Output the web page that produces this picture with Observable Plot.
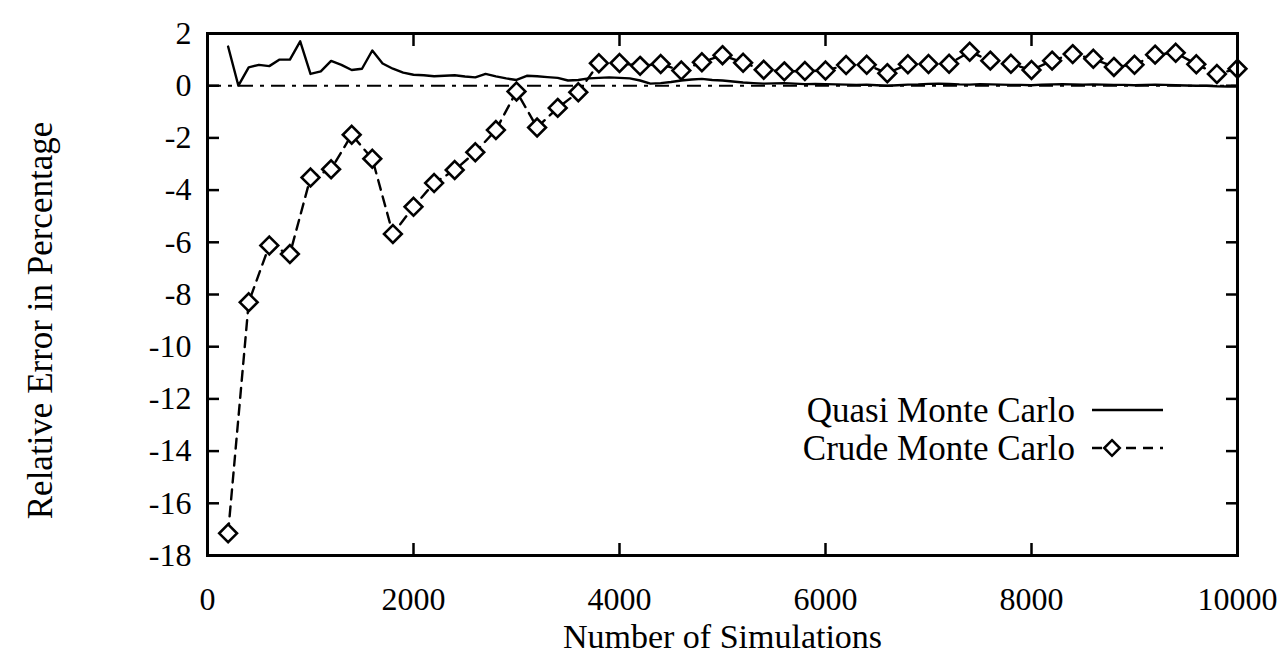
<!DOCTYPE html>
<html><head><meta charset="utf-8">
<script src="https://cdn.jsdelivr.net/npm/d3@7"></script>
<script src="https://cdn.jsdelivr.net/npm/@observablehq/plot@0.6"></script>
<style>
body{margin:0;background:#fff;}
#wrap{position:relative;width:1278px;height:657px;font-family:"Liberation Serif","Times New Roman",serif;}
#legend{position:absolute;left:0;top:0;pointer-events:none;}
</style></head><body><div id="wrap"></div>
<script>
// Crude Monte Carlo: every 200 simulations
const crudeX = [200,400,600,800,1000,1200,1400,1600,1800,2000,2200,2400,2600,2800,3000,3200,3400,3600,3800,4000,4200,4400,4600,4800,5000,5200,5400,5600,5800,6000,6200,6400,6600,6800,7000,7200,7400,7600,7800,8000,8200,8400,8600,8800,9000,9200,9400,9600,9800,10000];
const crudeY = [-17.15,-8.3,-6.12,-6.45,-3.52,-3.2,-1.88,-2.8,-5.68,-4.64,-3.73,-3.23,-2.55,-1.7,-0.22,-1.6,-0.85,-0.25,0.86,0.87,0.76,0.83,0.58,0.9,1.17,0.88,0.61,0.55,0.56,0.58,0.79,0.8,0.48,0.82,0.83,0.84,1.3,0.96,0.84,0.6,0.96,1.21,1.03,0.72,0.8,1.19,1.26,0.82,0.45,0.65];
// Quasi Monte Carlo: every 100 simulations, 200..10000
const quasiX = d3.range(200, 10001, 100);
const quasiY = [1.5,0.0,0.7,0.8,0.75,1.0,1.0,1.7,0.45,0.55,0.95,0.8,0.6,0.65,1.35,0.85,0.65,0.5,0.42,
  0.4,0.36,0.38,0.4,0.35,0.32,0.45,0.36,0.28,0.22,0.38,0.36,0.33,0.3,0.2,0.22,0.28,0.3,0.32,0.3,
  0.28,0.2,0.08,0.1,0.14,0.2,0.24,0.26,0.22,0.2,0.16,0.12,0.1,0.08,0.09,0.1,0.08,0.06,0.07,0.06,
  0.05,0.04,0.03,0.04,0.02,0.0,0.02,0.04,0.05,0.07,0.08,0.07,0.05,0.04,0.06,0.05,0.04,0.03,0.03,0.02,
  0.04,0.05,0.06,0.05,0.04,0.05,0.04,0.03,0.03,0.02,0.03,0.04,0.03,0.02,0.01,0.0,0.0,-0.02,-0.03,-0.03];
const xTicks = [0,2000,4000,6000,8000,10000];
const yTicks = [2,0,-2,-4,-6,-8,-10,-12,-14,-16,-18];
const seriesNames = ["Quasi Monte Carlo","Crude Monte Carlo"];
const xTitle = "Number of Simulations";
const yTitle = "Relative Error in Percentage";

const crude = crudeX.map((x,i)=>({x, y: crudeY[i]}));
const quasi = quasiX.map((x,i)=>({x, y: quasiY[i]}));
const fmt = d => String(d);

const plot = Plot.plot({
  width: 1278, height: 657,
  marginLeft: 207, marginRight: 41, marginTop: 33, marginBottom: 102,
  style: {fontFamily: "'Liberation Serif', 'Times New Roman', serif", background: "white", color: "black"},
  x: {domain: [0, 10000]},
  y: {domain: [-18, 2]},
  marks: [
    Plot.ruleY([0], {stroke: "black", strokeWidth: 2, strokeDasharray: "14,7,4,7"}),
    Plot.line(quasi, {x: "x", y: "y", stroke: "black", strokeWidth: 2.4}),
    Plot.line(crude, {x: "x", y: "y", stroke: "black", strokeWidth: 2.4, strokeDasharray: "10,7"}),
    Plot.dot(crude, {x: "x", y: "y", symbol: "diamond2", r: 8, fill: "white", stroke: "black", strokeWidth: 2.6}),
    Plot.frame({stroke: "black", strokeWidth: 3}),
    Plot.axisX({ticks: xTicks, tickSize: -12, strokeWidth: 2.5, tickFormat: () => "", label: null}),
    Plot.axisX({anchor: "top", ticks: xTicks, tickSize: -12, strokeWidth: 2.5, tickFormat: () => "", label: null}),
    Plot.axisX({ticks: xTicks, tickSize: 0, tickPadding: 32, fontSize: 32, tickFormat: fmt, label: null}),
    Plot.axisY({ticks: yTicks, tickSize: -12, strokeWidth: 2.5, tickFormat: () => "", label: null}),
    Plot.axisY({anchor: "right", ticks: yTicks, tickSize: -12, strokeWidth: 2.5, tickFormat: () => "", label: null}),
    Plot.axisY({ticks: yTicks, tickSize: 0, tickPadding: 16, fontSize: 32, tickFormat: fmt, label: null}),
    Plot.text([yTitle], {frameAnchor: "left", dx: -167, dy: 26, rotate: -90, fontSize: 35, fill: "black", textAnchor: "middle", lineAnchor: "middle"}),
    Plot.text([xTitle], {frameAnchor: "bottom", dy: 82, fontSize: 34, fill: "black", textAnchor: "middle", lineAnchor: "middle"})
  ]
});
const wrap = document.getElementById("wrap");
wrap.appendChild(plot);

// Legend overlay inside the plot area
const lg = d3.select(wrap).append("svg").attr("id","legend").attr("width",1278).attr("height",657);
const rows = [{y: 410, name: seriesNames[0], dashed: false}, {y: 448, name: seriesNames[1], dashed: true}];
rows.forEach(r => {
  lg.append("text").attr("x", 1075).attr("y", r.y).attr("dy", "0.35em").attr("text-anchor", "end")
    .attr("font-size", 35).attr("font-family", "'Liberation Serif', serif").text(r.name);
  if (!r.dashed) {
    lg.append("line").attr("x1", 1092).attr("x2", 1163).attr("y1", r.y).attr("y2", r.y)
      .attr("stroke", "black").attr("stroke-width", 2.4);
  } else {
    lg.append("line").attr("x1", 1092).attr("x2", 1163).attr("y1", r.y).attr("y2", r.y)
      .attr("stroke", "black").attr("stroke-width", 2.4).attr("stroke-dasharray", "10,7");
    lg.append("path").attr("d", d3.symbol(d3.symbolDiamond2, 154)()).attr("transform", `translate(1112,${r.y})`)
      .attr("fill", "white").attr("stroke", "black").attr("stroke-width", 2.5);
  }
});
</script></body></html>
